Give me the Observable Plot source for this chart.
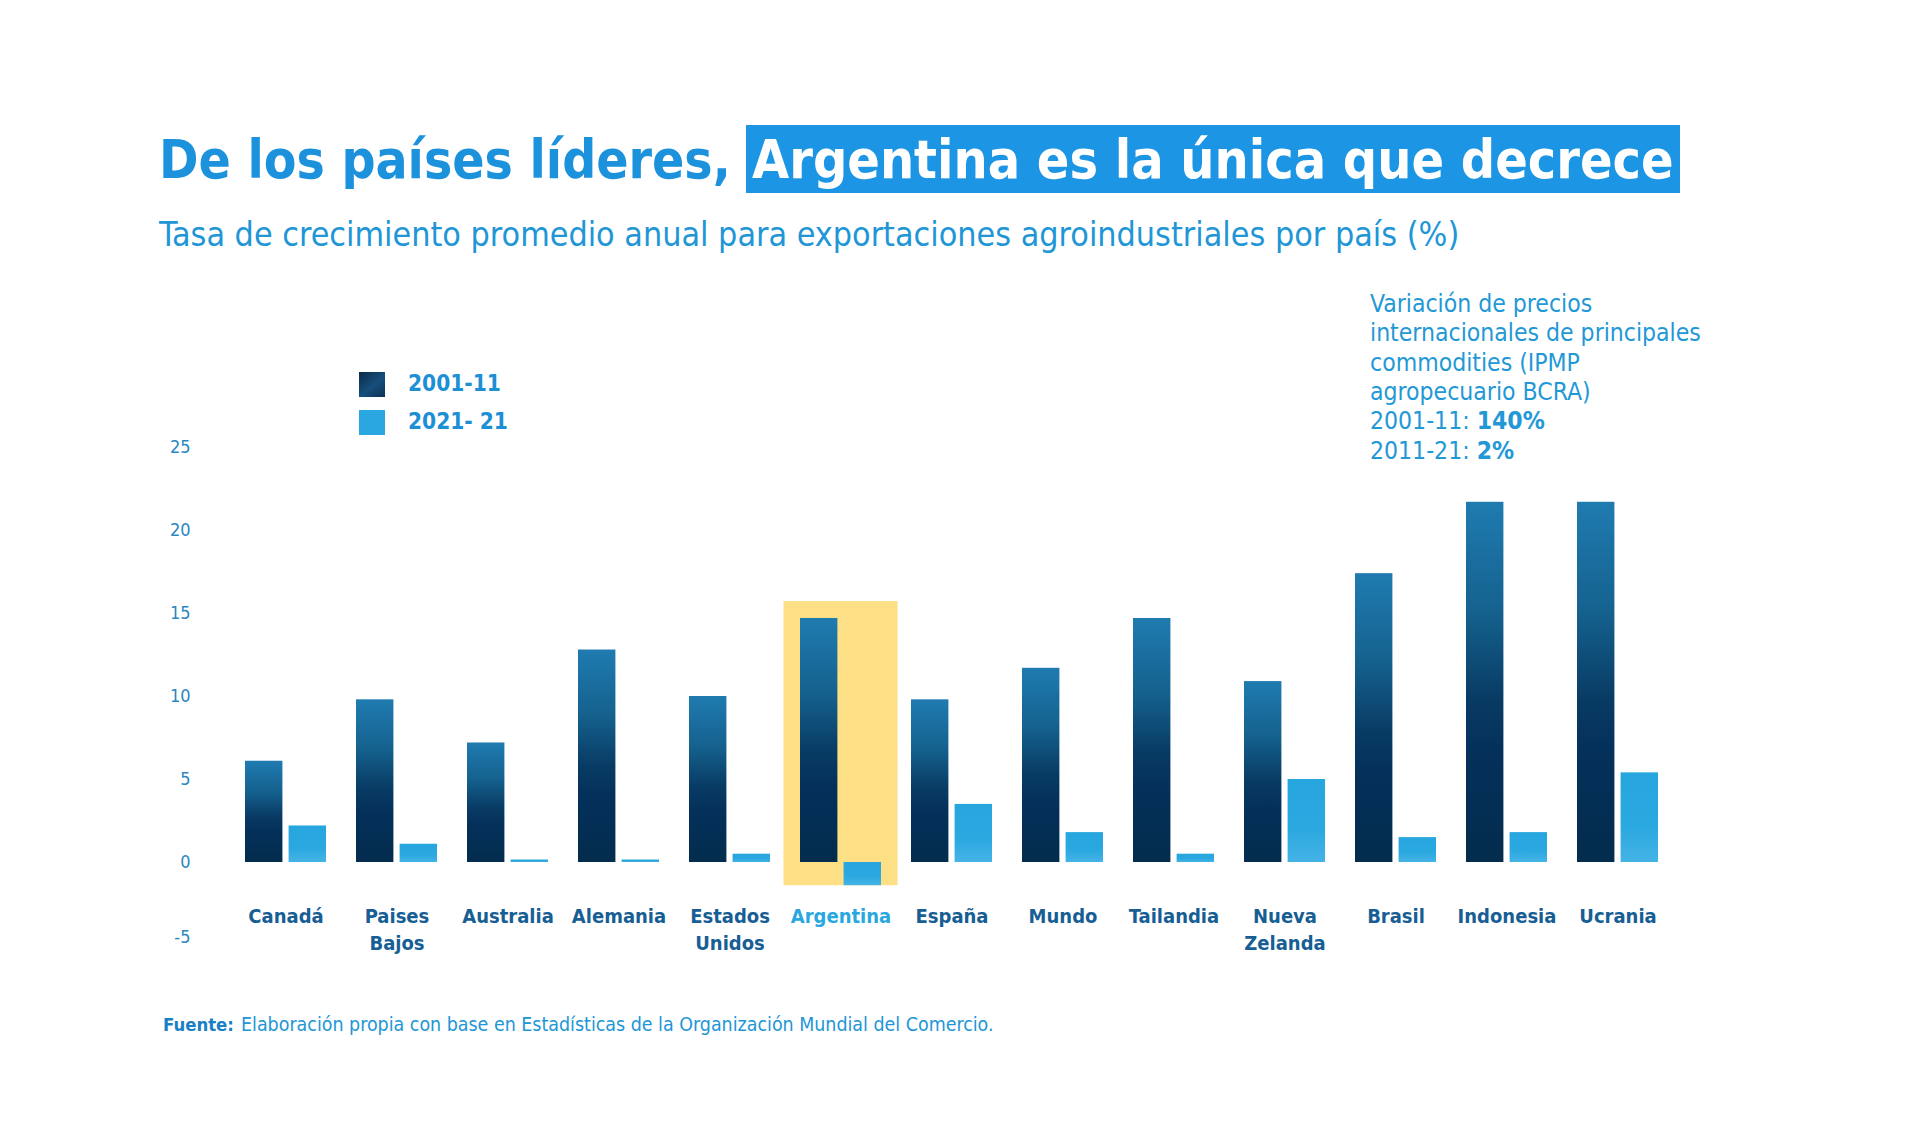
<!DOCTYPE html>
<html>
<head>
<meta charset="utf-8">
<script src="https://cdn.jsdelivr.net/npm/d3@7"></script>
<script src="https://cdn.jsdelivr.net/npm/@observablehq/plot@0.6"></script>
<style>
  html, body { margin: 0; padding: 0; background: #ffffff; }
  #page { position: relative; width: 1920px; height: 1139px; overflow: hidden; background: #ffffff;
          font-family: "DejaVu Sans Condensed", "DejaVu Sans", sans-serif; }
  .abs { position: absolute; white-space: nowrap; line-height: 1.15; }
  #chart { position: absolute; left: 0; top: 420px; }
  #chart svg { overflow: visible; }
</style>
</head>
<body>
<div id="page">
  <div id="title1" class="abs" style="left:159px; font-weight:bold; color:#1c92dc; font-size:52px;">De los países líderes,</div>
  <div id="titleBox" class="abs" style="left:746px; top:125px; width:934px; height:68px; background:#1c95e4;"></div>
  <div id="title2" class="abs" style="font-weight:bold; color:#ffffff; font-size:52px;">Argentina es la única que decrece</div>
  <div id="subtitle" class="abs" style="left:159px; color:#2196d6; font-size:30px;">Tasa de crecimiento promedio anual para exportaciones agroindustriales por país (%)</div>

  <div id="legend"></div>
  <div id="note"></div>

  <div id="chart"></div>

  <div id="foot1" class="abs" style="left:163px; font-weight:bold; color:#1a80c4; font-size:18px;">Fuente:</div>
  <div id="foot2" class="abs" style="left:241px; color:#2196d6; font-size:18px; font-family:'Liberation Sans Narrow','DejaVu Sans Condensed',sans-serif;">Elaboración propia con base en Estadísticas de la Organización Mundial del Comercio.</div>
</div>
<script>
// ---------------- DATA ----------------
const countries = ["Canadá", "Paises Bajos", "Australia", "Alemania", "Estados Unidos", "Argentina",
                   "España", "Mundo", "Tailandia", "Nueva Zelanda", "Brasil", "Indonesia", "Ucrania"];
const countryLabels = ["Canadá", "Paises\nBajos", "Australia", "Alemania", "Estados\nUnidos", "Argentina",
                       "España", "Mundo", "Tailandia", "Nueva\nZelanda", "Brasil", "Indonesia", "Ucrania"];
const growth2001_11 = [6.1, 9.8, 7.2, 12.8, 10.0, 14.7, 9.8, 11.7, 14.7, 10.9, 17.4, 21.7, 21.7];
const growth2011_21 = [2.2, 1.1, 0.15, 0.15, 0.5, -1.4, 3.5, 1.8, 0.5, 5.0, 1.5, 1.8, 5.4];
const seriesNames = ["2001-11", "2021- 21"];
const yTicks = [0, 5, 10, 15, 20, 25];
const yTickLow = [-5];
const highlighted = "Argentina";
const noteLines = [
  "Variación de precios",
  "internacionales de principales",
  "commodities (IPMP",
  "agropecuario BCRA)",
  "2001-11: <b>140%</b>",
  "2011-21: <b>2%</b>"
];

const data = countries.map((c, i) => ({country: c, label: countryLabels[i], v1: growth2001_11[i], v2: growth2011_21[i]}));

// ---------------- HELPERS ----------------
function fit(el, w) {
  const r = el.getBoundingClientRect().width;
  const fs = parseFloat(getComputedStyle(el).fontSize);
  el.style.fontSize = (fs * w / r) + "px";
}
function centerY(el, cy) {
  el.style.top = (cy - el.getBoundingClientRect().height / 2) + "px";
}
const page = document.getElementById("page");

// Titles
const t1 = document.getElementById("title1");
fit(t1, 572); centerY(t1, 160);
const t2 = document.getElementById("title2");
fit(t2, 922); t2.style.left = (1213 - 461) + "px"; centerY(t2, 160);
const st = document.getElementById("subtitle");
fit(st, 1301); centerY(st, 235);

// Legend
const legendColors = ["linear-gradient(140deg, #0a2a48 0%, #174f7c 55%, #0b3153 100%)", "#2aa7e0"];
const legendY = [384, 422];
let legendFs = null;
seriesNames.forEach((s, i) => {
  const sq = document.createElement("div");
  sq.style.cssText = `position:absolute; left:359px; width:26px; height:25px; top:${legendY[i] - 12.5}px; background:${legendColors[i]};`;
  page.appendChild(sq);
  const tx = document.createElement("div");
  tx.className = "abs";
  tx.style.cssText += "left:408px; font-weight:bold; color:#1d8fd4; font-size:22px;";
  tx.textContent = s;
  page.appendChild(tx);
  if (legendFs === null) { fit(tx, 93); legendFs = tx.style.fontSize; } else tx.style.fontSize = legendFs;
  centerY(tx, legendY[i]);
});

// Note (annotation)
const noteEls = noteLines.map((l, i) => {
  const d = document.createElement("div");
  d.className = "abs";
  d.style.cssText += "left:1370px; color:#2298d6; font-size:22px;";
  d.innerHTML = l;
  page.appendChild(d);
  return d;
});
fit(noteEls[1], 331);
const nfs = noteEls[1].style.fontSize;
noteEls.forEach((d, i) => { d.style.fontSize = nfs; centerY(d, 304 + i * 29.4); });

// Footer
const f1 = document.getElementById("foot1");
fit(f1, 71); centerY(f1, 1025);
const f2 = document.getElementById("foot2");
fit(f2, 753); centerY(f2, 1025);

// ---------------- CHART ----------------
const W = 1920, H = 560, mL = 214, mR = 230, mT = 27, mB = 35, pad = 0.27;
const step = (W - mL - mR) / (countries.length - pad + 2 * pad);
const bw = step * (1 - pad);
const inner = bw / 2 + 3;
const tickStyle = {tickSize: 0, tickPadding: 24, fontSize: 18, fill: "#2a87bf", tickFormat: d => String(d)};

const plot = Plot.plot({
  width: W, height: H,
  marginLeft: mL, marginRight: mR, marginTop: mT, marginBottom: mB,
  style: {background: "transparent", fontFamily: "'DejaVu Sans Condensed', 'DejaVu Sans', sans-serif", overflow: "visible"},
  x: {domain: countries, padding: pad, axis: null},
  y: {domain: [-5, 25], axis: null},
  marks: [
    Plot.barY(data.filter(d => d.country === highlighted), {
      x: "country",
      y1: d => Math.min(0, d.v1, d.v2),
      y2: d => Math.max(d.v1, d.v2),
      fill: "#fde085",
      insetTop: -17, insetLeft: -16.5, insetRight: -16.5
    }),
    Plot.barY(data, {x: "country", y: "v1", fill: "url(#gradDark)", insetRight: inner}),
    Plot.barY(data, {x: "country", y: "v2", fill: "url(#gradLight)", insetLeft: inner}),
    Plot.axisY({...tickStyle, ticks: yTicks}),
    Plot.axisY({...tickStyle, ticks: yTickLow, dy: -8}),
    Plot.text(data, {
      x: "country", text: "label", frameAnchor: "bottom", lineAnchor: "top", dy: -42,
      fontSize: 20, fontWeight: "bold", lineHeight: 1.35,
      fill: d => d.country === highlighted ? "#2aa7df" : "#175e94"
    })
  ]
});

const svg = plot.tagName.toLowerCase() === "svg" ? plot : plot.querySelector("svg");
const ns = "http://www.w3.org/2000/svg";
const defs = document.createElementNS(ns, "defs");
defs.innerHTML = `
  <linearGradient id="gradDark" x1="0" y1="0" x2="0" y2="1">
    <stop offset="0" stop-color="#1f7bb0"/>
    <stop offset="0.3" stop-color="#15628f"/>
    <stop offset="0.55" stop-color="#083b64"/>
    <stop offset="0.7" stop-color="#04305a"/>
    <stop offset="1" stop-color="#032c4d"/>
  </linearGradient>
  <linearGradient id="gradLight" x1="0" y1="0" x2="0" y2="1">
    <stop offset="0" stop-color="#27a5de"/>
    <stop offset="0.6" stop-color="#2aa8e0"/>
    <stop offset="1" stop-color="#45b3e6"/>
  </linearGradient>`;
svg.insertBefore(defs, svg.firstChild);
document.getElementById("chart").appendChild(plot);
</script>
</body>
</html>
